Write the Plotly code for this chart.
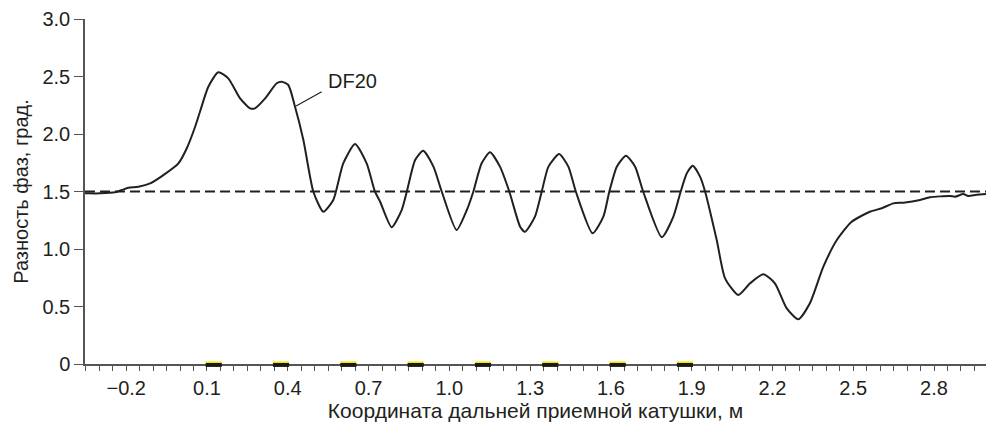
import plotly.graph_objects as go

# DF20 phase difference curve
coord_m = [-0.353, -0.346, -0.297, -0.241, -0.216, -0.192, -0.155, -0.111, -0.062, -0.006,
           0.025, 0.056, 0.074, 0.105, 0.142, 0.179, 0.223, 0.260, 0.278, 0.316,
           0.359, 0.378, 0.402, 0.427, 0.458, 0.495, 0.532, 0.569, 0.606, 0.650,
           0.693, 0.724, 0.743, 0.786, 0.823, 0.842, 0.873, 0.903, 0.941, 0.972,
           1.027, 1.065, 1.089, 1.120, 1.151, 1.188, 1.223, 1.263, 1.281, 1.318,
           1.343, 1.368, 1.408, 1.442, 1.470, 1.532, 1.572, 1.594, 1.622, 1.656,
           1.690, 1.720, 1.789, 1.832, 1.859, 1.882, 1.904, 1.931, 1.950, 1.993,
           2.024, 2.073, 2.117, 2.166, 2.209, 2.253, 2.296, 2.339, 2.389, 2.439,
           2.494, 2.562, 2.606, 2.649, 2.686, 2.748, 2.785, 2.859, 2.878, 2.909,
           2.927, 2.958, 2.993]
phase_deg = [1.484, 1.484, 1.484, 1.493, 1.513, 1.533, 1.542, 1.571, 1.643, 1.745,
             1.876, 2.063, 2.194, 2.411, 2.537, 2.484, 2.310, 2.223, 2.223, 2.310,
             2.441, 2.455, 2.426, 2.237, 1.948, 1.498, 1.324, 1.426, 1.745, 1.913,
             1.745, 1.498, 1.411, 1.189, 1.339, 1.498, 1.774, 1.855, 1.716, 1.498,
             1.165, 1.339, 1.498, 1.745, 1.841, 1.716, 1.498, 1.194, 1.150, 1.281,
             1.498, 1.716, 1.826, 1.716, 1.498, 1.137, 1.281, 1.498, 1.716, 1.811,
             1.716, 1.498, 1.102, 1.281, 1.498, 1.658, 1.724, 1.629, 1.498, 1.078,
             0.745, 0.600, 0.702, 0.780, 0.702, 0.484, 0.389, 0.528, 0.846, 1.078,
             1.237, 1.324, 1.354, 1.397, 1.403, 1.426, 1.450, 1.461, 1.455, 1.478,
             1.461, 1.472, 1.478]

reference_level = 1.5
coil_positions = [0.125, 0.375, 0.625, 0.875, 1.125, 1.375, 1.625, 1.875]
coil_width = 0.06

x_range = [-0.353, 2.993]
y_range = [0, 3.0]
x_tick_vals = [-0.2, 0.1, 0.4, 0.7, 1.0, 1.3, 1.6, 1.9, 2.2, 2.5, 2.8]
x_tick_text = ["\u22120.2", "0.1", "0.4", "0.7", "1.0", "1.3", "1.6", "1.9", "2.2", "2.5", "2.8"]
y_tick_vals = [0, 0.5, 1.0, 1.5, 2.0, 2.5, 3.0]
y_tick_text = ["0", "0.5", "1.0", "1.5", "2.0", "2.5", "3.0"]

series_label = "DF20"
label_pos = (0.640, 2.465)
leader = (0.431, 2.243, 0.526, 2.368)

FONT = "Liberation Sans, Arial, sans-serif"
INK = "#231f20"

fig = go.Figure()

fig.add_trace(go.Scatter(
    x=coord_m, y=phase_deg, mode="lines",
    line=dict(color=INK, width=2, shape="spline", smoothing=0.6),
    showlegend=False, hoverinfo="skip"))

shapes = [
    dict(type="line", xref="paper", yref="y", x0=0, x1=1,
         y0=reference_level, y1=reference_level,
         line=dict(color=INK, width=2, dash="10px,5px"), layer="below"),
    dict(type="line", xref="x", yref="y",
         x0=leader[0], y0=leader[1], x1=leader[2], y1=leader[3],
         line=dict(color=INK, width=1.2)),
]
for c in coil_positions:
    shapes.append(dict(type="rect", xref="x", yref="paper",
                       x0=c - coil_width / 2, x1=c + coil_width / 2,
                       y0=-0.0085, y1=0.0029,
                       fillcolor="#1a1a1a", line=dict(width=0), layer="above"))
    shapes.append(dict(type="rect", xref="x", yref="paper",
                       x0=c - coil_width / 2, x1=c + coil_width / 2,
                       y0=0.0029, y1=0.0075,
                       fillcolor="#f5e400", line=dict(width=0), layer="above"))

fig.update_layout(
    width=986, height=422,
    margin=dict(l=85, r=0, t=19, b=58),
    paper_bgcolor="white", plot_bgcolor="white",
    font=dict(family=FONT, size=20, color=INK),
    shapes=shapes,
    annotations=[dict(x=label_pos[0], y=label_pos[1], xref="x", yref="y",
                      text=series_label, showarrow=False,
                      font=dict(family=FONT, size=20, color=INK))],
    xaxis=dict(
        range=x_range, showgrid=False, zeroline=False,
        showline=True, linecolor="#555", linewidth=1.5,
        ticks="outside", ticklen=5, tickwidth=1.2, tickcolor="#555",
        tickvals=x_tick_vals, ticktext=x_tick_text,
        tickfont=dict(family=FONT, size=20, color=INK),
        minor=dict(dtick=0.05, tick0=-0.3, ticks="outside", ticklen=5,
                   tickwidth=1.2, tickcolor="#555", showgrid=False),
        title=dict(text="Координата дальней приемной катушки, м",
                   font=dict(family=FONT, size=21, color=INK), standoff=2),
    ),
    yaxis=dict(
        range=y_range, showgrid=False, zeroline=False,
        showline=True, linecolor="#555", linewidth=1.5,
        ticks="outside", ticklen=9, tickwidth=1.2, tickcolor="#555",
        tickvals=y_tick_vals, ticktext=y_tick_text,
        tickfont=dict(family=FONT, size=20, color=INK),
        title=dict(text="Разность фаз, град.",
                   font=dict(family=FONT, size=20, color=INK), standoff=8),
    ),
)

fig.write_html("out.html")
